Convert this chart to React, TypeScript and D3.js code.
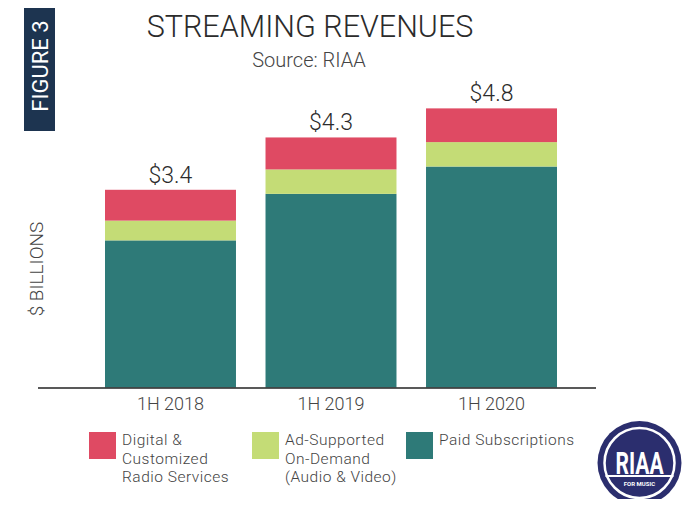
import React, { useEffect, useRef } from 'react';
import * as d3 from 'd3';

// periods and stacked revenue ($ billions)
const periods = ['1H 2018', '1H 2019', '1H 2020'];
const radio = [0.53, 0.55, 0.58];
const adSupported = [0.34, 0.42, 0.42];
const paid = [2.53, 3.33, 3.80];
const totalLabels = ['$3.4', '$4.3', '$4.8'];

const seriesKeys = ['paid', 'adSupported', 'radio'];
const seriesColors = { paid: '#2E7A78', adSupported: '#C4DC76', radio: '#DF4A63' };
const legendItems = [
  { key: 'radio', lines: ['Digital &', 'Customized', 'Radio Services'] },
  { key: 'adSupported', lines: ['Ad-Supported', 'On-Demand', '(Audio & Video)'] },
  { key: 'paid', lines: ['Paid Subscriptions'] },
];

const FONT = 'Roboto, "DejaVu Sans", sans-serif';

const App = () => {
  const svgRef = useRef(null);

  useEffect(() => {
    const svg = d3.select(svgRef.current);
    svg.selectAll('*').remove();

    const table = periods.map((p, i) => ({ period: p, paid: paid[i], adSupported: adSupported[i], radio: radio[i] }));

    const x = d3.scaleBand().domain(periods).range([105, 557]).paddingInner(0.184).paddingOuter(0);
    const y = d3.scaleLinear().domain([0, 5]).range([387.5, 96.75]);

    // title block (first line sits mostly above the frame, as in the source)
    svg.append('text').attr('x', 309).attr('y', 5).attr('text-anchor', 'middle')
      .attr('font-size', 30).attr('font-weight', 300).attr('fill', '#2b2b2b').attr('font-family', FONT)
      .text('U.S. MUSIC INDUSTRY');
    svg.append('text').attr('x', 310).attr('y', 37).attr('text-anchor', 'middle')
      .attr('font-size', 30.5).attr('font-weight', 300).attr('fill', '#2b2b2b').attr('font-family', FONT)
      .text('STREAMING REVENUES');
    svg.append('text').attr('x', 309).attr('y', 67).attr('text-anchor', 'middle')
      .attr('font-size', 20).attr('font-weight', 300).attr('fill', '#444').attr('font-family', FONT)
      .text('Source: RIAA');

    // FIGURE 3 tab
    svg.append('rect').attr('x', 24).attr('y', 3).attr('width', 31).attr('height', 128).attr('fill', '#1D3450');
    svg.append('text').attr('transform', 'translate(47.5,66) rotate(-90)').attr('text-anchor', 'middle')
      .attr('font-size', 22).attr('fill', '#fff').attr('font-family', FONT).text('FIGURE 3');

    // stacked bars
    const stacked = d3.stack().keys(seriesKeys)(table);
    stacked.forEach(layer => {
      svg.append('g').selectAll('rect').data(layer).join('rect')
        .attr('x', d => x(d.data.period))
        .attr('y', d => y(d[1]))
        .attr('width', x.bandwidth())
        .attr('height', d => y(d[0]) - y(d[1]))
        .attr('fill', seriesColors[layer.key]);
    });

    // total labels
    svg.append('g').selectAll('text').data(table).join('text')
      .attr('x', d => x(d.period) + x.bandwidth() / 2)
      .attr('y', d => y(d.paid + d.adSupported + d.radio) - 7)
      .attr('text-anchor', 'middle').attr('font-size', 23).attr('font-weight', 300)
      .attr('fill', '#2b2b2b').attr('font-family', FONT)
      .text((d, i) => totalLabels[i]);

    // baseline + category labels
    const axis = svg.append('g').attr('transform', `translate(0,${y(0)})`)
      .call(d3.axisBottom(x).tickSize(0).tickPadding(10));
    axis.select('.domain').attr('d', 'M38,0.5H596').attr('stroke', '#222').attr('stroke-width', 1.5);
    axis.selectAll('text').attr('font-size', 18).attr('font-weight', 300).attr('fill', '#444').attr('font-family', FONT);

    // y title
    svg.append('text').attr('transform', 'translate(43,269) rotate(-90)').attr('text-anchor', 'middle')
      .attr('font-size', 19).attr('font-weight', 300).attr('fill', '#444').attr('font-family', FONT).text('$ BILLIONS');

    // legend
    const legendX = [89, 252, 406];
    legendItems.forEach((item, i) => {
      const g = svg.append('g').attr('transform', `translate(${legendX[i]},432)`);
      g.append('rect').attr('width', 27).attr('height', 27).attr('fill', seriesColors[item.key]);
      item.lines.forEach((line, j) => {
        g.append('text').attr('x', 33).attr('y', 13 + j * 18.5)
          .attr('font-size', 15.5).attr('font-weight', 300).attr('letter-spacing', 0.5)
          .attr('fill', '#444').attr('font-family', FONT).text(line);
      });
    });

    // RIAA logo
    const logo = svg.append('g').attr('transform', 'translate(639.5,463)');
    logo.append('circle').attr('r', 42).attr('fill', '#2B2E6E');
    logo.append('circle').attr('r', 35).attr('fill', 'none').attr('stroke', '#fff').attr('stroke-width', 2.5);
    logo.append('text').attr('transform', 'translate(0,11) scale(0.68,1)').attr('text-anchor', 'middle')
      .attr('font-size', 31).attr('font-weight', 'bold')
      .attr('fill', '#fff').attr('font-family', FONT).text('RIAA');
    logo.append('line').attr('x1', -34).attr('x2', 34).attr('y1', 13).attr('y2', 13).attr('stroke', '#fff').attr('stroke-width', 2);
    logo.append('text').attr('y', 23).attr('text-anchor', 'middle').attr('font-size', 6).attr('font-weight', 'bold')
      .attr('fill', '#fff').attr('font-family', FONT).text('FOR MUSIC');
  }, []);

  return (
    <div style={{ margin: -8 }}>
      <svg ref={svgRef} width={690} height={507} style={{ display: 'block', background: '#fff' }} />
    </div>
  );
};

export default App;
